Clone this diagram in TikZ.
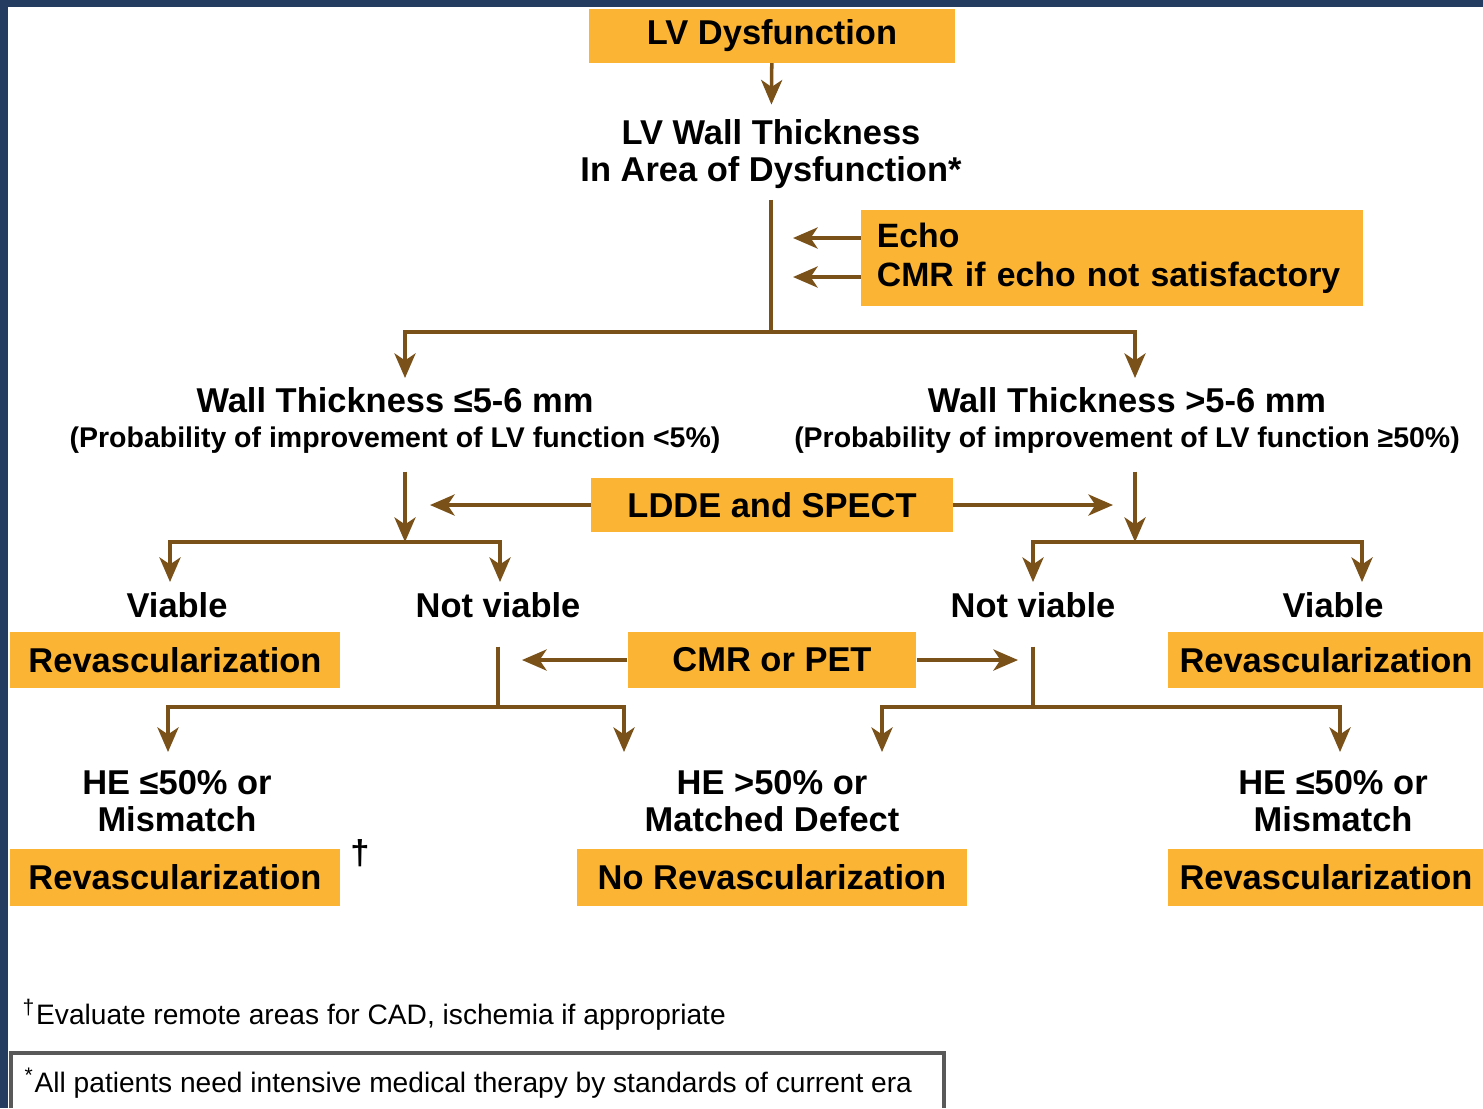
\documentclass[tikz,border=0pt]{standalone}
\usepackage{fontspec}
\setmainfont{Liberation Sans}
\usetikzlibrary{arrows.meta}
\definecolor{slidebg}{RGB}{37,60,97}
\definecolor{boxorange}{RGB}{251,180,52}
\definecolor{arrowbrown}{RGB}{122,82,25}
\begin{document}
\begin{tikzpicture}[x=0.01cm,y=-0.01cm,
  box/.style={fill=boxorange, inner sep=0pt, font=\fontsize{9.8}{11}\selectfont\bfseries},
  lbl/.style={align=center, inner sep=0pt, font=\fontsize{9.8}{10.6}\selectfont\bfseries},
  small/.style={inner sep=0pt, font=\fontsize{8.1}{10}\selectfont\bfseries},
  foot/.style={inner sep=0pt, anchor=west, font=\fontsize{8}{10}\selectfont},
  conn/.style={draw=arrowbrown, line width=1pt},
  arr/.style={conn, -{Stealth[length=7pt,width=6pt,inset=2pt]}}]
  \fill[slidebg] (0,0) rectangle (1483,1108);
  \fill[white] (8,7) rectangle (1483,1108);
  \useasboundingbox (0,0) rectangle (1483,1108);
  % top of the chart
  \node[box, minimum width=3.65cm, minimum height=0.53cm] (lvd) at (772,36) {LV Dysfunction};
  \node[lbl] (wall) at (771,154) {LV Wall Thickness\\In Area of Dysfunction*};
  \node[box, minimum width=5.01cm, minimum height=0.96cm, text width=4.7cm, align=left,
    font=\fontsize{9.6}{11.1}\selectfont\bfseries] (echo) at (1112,258) {Echo\\CMR if echo not satisfactory};
  \coordinate (echoA) at (793,238);
  \coordinate (echoB) at (793,277);
  \coordinate (split1) at (771,332);
  \draw[arr, shorten >=4pt] (lvd) -- (wall);
  \draw[conn, shorten <=3pt] (wall.south) -- (split1);
  \draw[arr] (echo.west |- echoA) -- (echoA);
  \draw[arr] (echo.west |- echoB) -- (echoB);
  % wall thickness
  \node[lbl] (thin) at (395,400) {Wall Thickness ≤5-6 mm};
  \node[small] (thinp) at (395,440) {(Probability of improvement of LV function <5\%)};
  \node[lbl] (thick) at (1127,400) {Wall Thickness >5-6 mm};
  \node[small] (thickp) at (1127,440) {(Probability of improvement of LV function ≥50\%)};
  \coordinate (thinin) at (405,378);
  \coordinate (thickin) at (1135,378);
  \draw[arr] (split1) -| (thinin);
  \draw[arr] (split1) -| (thickin);
  % LDDE and SPECT
  \node[box, minimum width=3.61cm, minimum height=0.54cm] (ldde) at (772,505) {LDDE and SPECT};
  \coordinate (split2) at (405,542);
  \coordinate (split3) at (1135,542);
  \coordinate (lddeL) at (430,505);
  \coordinate (lddeR) at (1113,505);
  \draw[arr, shorten <=5pt] (thinp.south -| split2) -- (split2);
  \draw[arr, shorten <=5pt] (thickp.south -| split3) -- (split3);
  \draw[arr] (ldde.west) -- (lddeL);
  \draw[arr] (ldde.east) -- (lddeR);
  \node[lbl] (viab1) at (177,605) {Viable};
  \node[lbl] (notv1) at (498,605) {Not viable};
  \node[lbl] (notv2) at (1033,605) {Not viable};
  \node[lbl] (viab2) at (1333,605) {Viable};
  \coordinate (viab1in) at (170,582);
  \coordinate (notv1in) at (500,582);
  \coordinate (notv2in) at (1033,582);
  \coordinate (viab2in) at (1362,582);
  \draw[arr] (split2) -| (viab1in);
  \draw[arr] (split2) -| (notv1in);
  \draw[arr] (split3) -| (notv2in);
  \draw[arr] (split3) -| (viab2in);
  % CMR or PET
  \node[box, minimum width=3.30cm, minimum height=0.56cm] (rev1) at (175,660) {Revascularization};
  \node[box, minimum width=2.88cm, minimum height=0.56cm] (cmr) at (772,660) {CMR or PET};
  \node[box, minimum width=3.15cm, minimum height=0.56cm] (rev2) at (1326,660) {Revascularization};
  \coordinate (cmrL) at (522,660);
  \coordinate (cmrR) at (1018,660);
  \draw[arr] (cmr.west) -- (cmrL);
  \draw[arr] (cmr.east) -- (cmrR);
  \coordinate (split4) at (498,707);
  \coordinate (split5) at (1033,707);
  \draw[conn, shorten <=8pt] (notv1.south) -- (split4);
  \draw[conn, shorten <=8pt] (notv2.south) -- (split5);
  \coordinate (he1in) at (168,752);
  \coordinate (he2in) at (624,752);
  \coordinate (he3in) at (882,752);
  \coordinate (he4in) at (1340,752);
  \draw[arr] (split4) -| (he1in);
  \draw[arr] (split4) -| (he2in);
  \draw[arr] (split5) -| (he3in);
  \draw[arr] (split5) -| (he4in);
  % outcomes
  \node[lbl] (he1) at (177,801) {HE ≤50\% or\\Mismatch};
  \node[lbl] (he2) at (772,801) {HE >50\% or\\Matched Defect};
  \node[lbl] (he3) at (1333,801) {HE ≤50\% or\\Mismatch};
  \node[box, minimum width=3.30cm, minimum height=0.57cm] (rev3) at (175,877) {Revascularization};
  \node[lbl] (dagger) at (360,853) {†};
  \node[box, minimum width=3.90cm, minimum height=0.57cm] (norev) at (772,877) {No Revascularization};
  \node[box, minimum width=3.15cm, minimum height=0.57cm] (rev4) at (1326,877) {Revascularization};
  % footnotes
  \node[foot] (note1) at (22,1015) {\textsuperscript{†}Evaluate remote areas for CAD, ischemia if appropriate};
  \draw[black!65, line width=1pt] (11,1108) -- (11,1053) -- (944,1053) -- (944,1108);
  \node[foot] (note2) at (24,1083) {\textsuperscript{*}All patients need intensive medical therapy by standards of current era};
\end{tikzpicture}
\end{document}
